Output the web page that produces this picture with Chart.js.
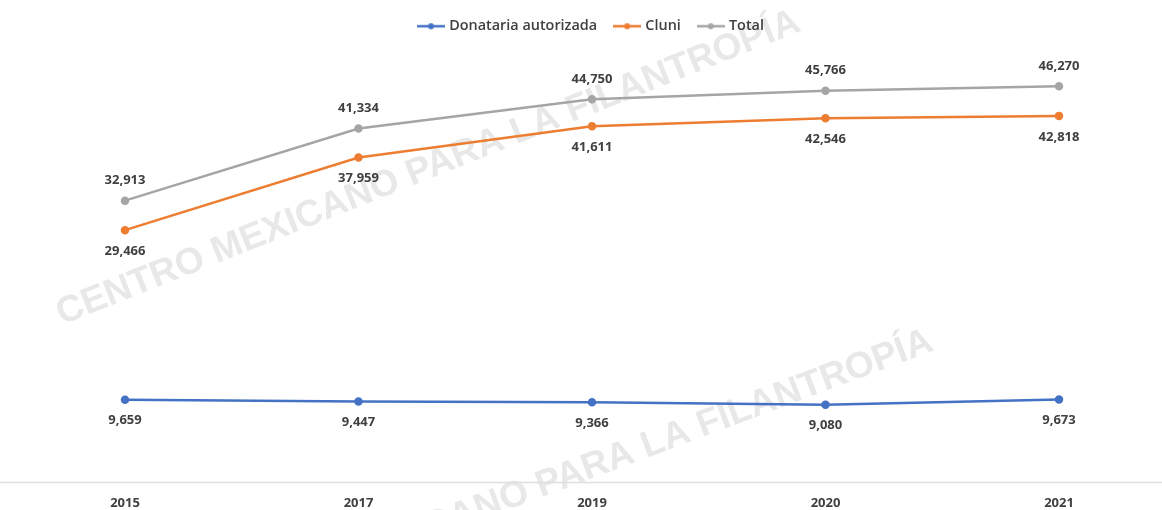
<!DOCTYPE html>
<html>
<head>
<meta charset="utf-8">
<script src="https://cdn.jsdelivr.net/npm/chart.js@4.4.1/dist/chart.umd.min.js"></script>
<style>
  html, body { margin: 0; padding: 0; background: #fff; }
  #wrap { width: 1162px; height: 510px; }
</style>
</head>
<body>
<div id="wrap"><canvas id="cmfChart" width="1162" height="510"></canvas></div>
<script>
// data
const years = ['2015', '2017', '2019', '2020', '2021'];
const donataria = [9659, 9447, 9366, 9080, 9673];
const cluni = [29466, 37959, 41611, 42546, 42818];
const total = [32913, 41334, 44750, 45766, 46270];

const seriesNames = ['Donataria autorizada', 'Cluni', 'Total'];
const seriesColors = ['#4472C4', '#ED7D31', '#A5A5A5'];
const watermark = 'CENTRO MEXICANO PARA LA FILANTROPÍA';

const textColor = '#404040';
const fontFamily = "'Open Sans', 'Noto Sans', sans-serif";

// little line-with-dot marker for the legend, like Excel
function legendMarker(color) {
    const c = document.createElement('canvas');
    c.width = 28; c.height = 10;
    const g = c.getContext('2d');
    g.strokeStyle = color;
    g.lineWidth = 2.5;
    g.beginPath(); g.moveTo(0, 5); g.lineTo(28, 5); g.stroke();
    g.fillStyle = color;
    g.beginPath(); g.arc(14, 5, 3, 0, Math.PI * 2); g.fill();
    return c;
}

const watermarkPlugin = {
    id: 'watermark',
    beforeDraw(chart) {
        const ctx = chart.ctx;
        ctx.save();
        ctx.fillStyle = '#e8e8e8';
        ctx.font = "bold 37px 'Liberation Sans', Arial, sans-serif";
        ctx.textBaseline = 'alphabetic';
        [[62, 325, -21.7, 'left'], [935, 350, -20.5, 'right']].forEach(([x, y, a, al]) => {
            ctx.save();
            ctx.translate(x, y);
            ctx.rotate(a * Math.PI / 180);
            ctx.textAlign = al;
            ctx.fillText(watermark, 0, 0);
            ctx.restore();
        });
        ctx.restore();
    }
};

// baseline across the whole width, at value 0
const baselinePlugin = {
    id: 'baseline',
    beforeDatasetsDraw(chart) {
        const ctx = chart.ctx;
        const y = Math.round(chart.scales.y.getPixelForValue(0)) + 0.5;
        ctx.save();
        ctx.strokeStyle = '#dedede';
        ctx.lineWidth = 1.5;
        ctx.beginPath();
        ctx.moveTo(0, y);
        ctx.lineTo(chart.width, y);
        ctx.stroke();
        ctx.restore();
    }
};

// value labels: Total above the points, the rest below
const valueLabels = {
    id: 'valueLabels',
    afterDatasetsDraw(chart) {
        const ctx = chart.ctx;
        ctx.save();
        ctx.font = 'bold 13px ' + fontFamily;
        ctx.fillStyle = textColor;
        ctx.textAlign = 'center';
        ctx.textBaseline = 'middle';
        chart.data.datasets.forEach((ds, i) => {
            const meta = chart.getDatasetMeta(i);
            meta.data.forEach((pt, j) => {
                const dy = ds.label === 'Total' ? -20 : 21;
                ctx.fillText(ds.data[j].toLocaleString('en-US'), pt.x, pt.y + dy);
            });
        });
        ctx.restore();
    }
};

// a bit more room under the legend
const legendSpace = {
    id: 'legendSpace',
    beforeInit(chart) {
        const fit = chart.legend.fit;
        chart.legend.fit = function () {
            fit.bind(chart.legend)();
            this.height += 11;
        };
    }
};

const ctx = document.getElementById('cmfChart').getContext('2d');
const cmfChart = new Chart(ctx, {
    type: 'line',
    data: {
        labels: years,
        datasets: [donataria, cluni, total].map((d, i) => ({
            label: seriesNames[i],
            data: d,
            borderColor: seriesColors[i],
            backgroundColor: seriesColors[i],
            borderWidth: 2.5,
            pointRadius: 3,
            pointHoverRadius: 3,
            tension: 0
        }))
    },
    options: {
        responsive: false,
        animation: false,
        layout: { autoPadding: false, padding: { left: 125, right: 103, top: 0, bottom: 0 } },
        scales: {
            x: {
                offset: false,
                grid: { display: false, drawTicks: false },
                border: { display: false },
                ticks: {
                    color: textColor,
                    padding: 13,
                    font: { family: fontFamily, size: 13, weight: 'bold' }
                },
                afterFit(scale) {
                    scale.height -= 14;
                }
            },
            y: {
                display: false,
                min: 0,
                max: 50000
            }
        },
        plugins: {
            legend: {
                position: 'top',
                labels: {
                    usePointStyle: true,
                    pointStyleWidth: 22,
                    boxHeight: 10,
                    padding: 19,
                    color: textColor,
                    font: { family: fontFamily, size: 14.4, weight: '600' },
                    generateLabels(chart) {
                        return chart.data.datasets.map((ds, i) => ({
                            text: ds.label,
                            pointStyle: legendMarker(seriesColors[i]),
                            fillStyle: seriesColors[i],
                            strokeStyle: seriesColors[i],
                            fontColor: textColor,
                            lineWidth: 0,
                            hidden: false,
                            datasetIndex: i
                        }));
                    }
                }
            },
            tooltip: { enabled: false }
        }
    },
    plugins: [watermarkPlugin, baselinePlugin, valueLabels, legendSpace]
});
</script>
</body>
</html>
